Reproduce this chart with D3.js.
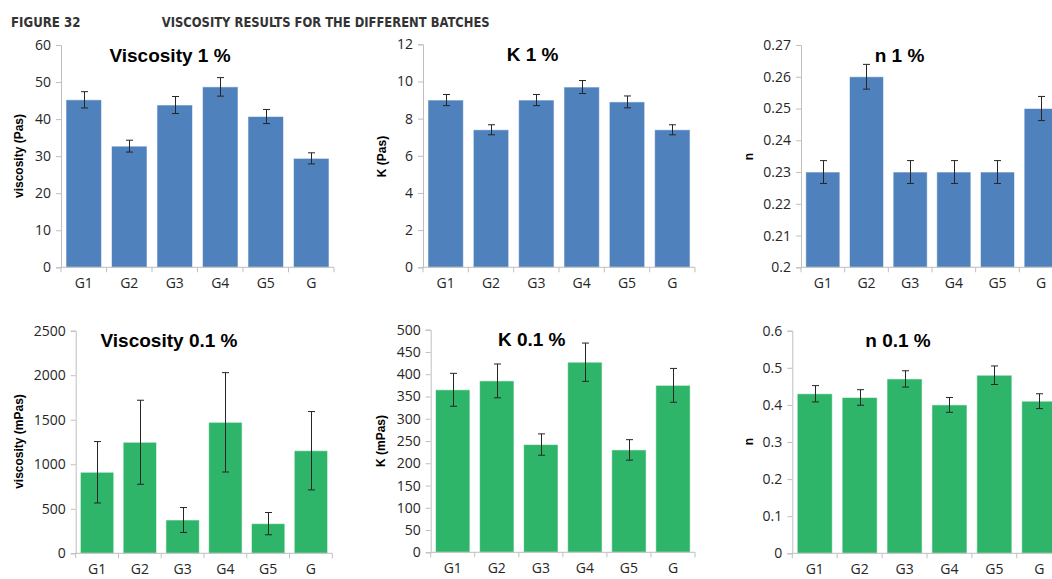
<!DOCTYPE html>
<html><head><meta charset="utf-8">
<script src="https://cdn.jsdelivr.net/npm/d3@7"></script>
<style>
html,body{margin:0;padding:0;background:#fff;overflow:hidden}
svg{display:block}
</style></head>
<body>
<svg id="chart" width="1052" height="579"></svg>
<script>
// ---- data ----
const categories = ["G1","G2","G3","G4","G5","G"];

const visc1    = [45.2, 32.7, 43.8, 48.7, 40.7, 29.4];
const visc1Err = [2.2, 1.6, 2.3, 2.5, 1.9, 1.5];
const k1       = [9.0, 7.4, 9.0, 9.7, 8.9, 7.4];
const k1Err    = [0.3, 0.27, 0.3, 0.35, 0.32, 0.27];
const n1       = [0.23, 0.26, 0.23, 0.23, 0.23, 0.25];
const n1Err    = [0.0036, 0.0039, 0.0036, 0.0036, 0.0036, 0.0038];

const visc01    = [910, 1247, 374, 1471, 333, 1152];
const visc01Err = [345, 472, 140, 558, 125, 440];
const k01       = [365, 385, 242, 427, 230, 375];
const k01Err    = [37, 38, 24, 43, 23, 38];
const n01       = [0.43, 0.42, 0.47, 0.40, 0.48, 0.41];
const n01Err    = [0.022, 0.021, 0.022, 0.020, 0.025, 0.020];

const visc1Ticks  = [0, 10, 20, 30, 40, 50, 60];
const k1Ticks     = [0, 2, 4, 6, 8, 10, 12];
const n1Ticks     = [0.2, 0.21, 0.22, 0.23, 0.24, 0.25, 0.26, 0.27];
const visc01Ticks = [0, 500, 1000, 1500, 2000, 2500];
const k01Ticks    = [0, 50, 100, 150, 200, 250, 300, 350, 400, 450, 500];
const n01Ticks    = [0, 0.1, 0.2, 0.3, 0.4, 0.5, 0.6];

const figureLabel = "FIGURE 32";
const figureTitle = "VISCOSITY RESULTS FOR THE DIFFERENT BATCHES";

// ---- layout ----
const BLUE = "#4F81BD", GREEN = "#2EB56A";
const panels = [
  {title:"Viscosity 1 %",   yLabel:"viscosity (Pas)",  vals:visc1,  err:visc1Err,  ticks:visc1Ticks,  color:BLUE,
   x0:61,    x1:334,    y0:267.3, y1:45,    tx:170,   ty:61.5,  lx:19,  ly:156},
  {title:"K 1 %",           yLabel:"K (Pas)",          vals:k1,     err:k1Err,     ticks:k1Ticks,     color:BLUE,
   x0:423,   x1:695,    y0:267.3, y1:44.3,  tx:532.5, ty:61,    lx:382, ly:156.5},
  {title:"n 1 %",           yLabel:"n",                vals:n1,     err:n1Err,     ticks:n1Ticks,     color:BLUE,
   x0:801,   x1:1063,   y0:267.3, y1:45,    tx:899.5, ty:61.5,  lx:749, ly:156.5},
  {title:"Viscosity 0.1 %", yLabel:"viscosity (mPas)", vals:visc01, err:visc01Err, ticks:visc01Ticks, color:GREEN,
   x0:75.7,  x1:332.3,  y0:553.3, y1:330.7, tx:169,   ty:346.5, lx:19,  ly:441.5},
  {title:"K 0.1 %",         yLabel:"K (mPas)",         vals:k01,    err:k01Err,    ticks:k01Ticks,    color:GREEN,
   x0:430.7, x1:695,    y0:552.3, y1:329.7, tx:531.7, ty:345.5, lx:381, ly:441},
  {title:"n 0.1 %",         yLabel:"n",                vals:n01,    err:n01Err,    ticks:n01Ticks,    color:GREEN,
   x0:792.3, x1:1061.7, y0:553.3, y1:330.7, tx:898,   ty:346.5, lx:749, ly:441.5}
];

const svg = d3.select("#chart");
const AXIS = "#BFBFBF", TXT = "#262626";
const FONT = "'Liberation Sans', Arial, sans-serif";
const TICKFONT = "'Open Sans', 'Noto Sans', sans-serif";

// header
svg.append("text").attr("x", 11).attr("y", 26.5)
  .attr("font-family", "'DejaVu Sans Condensed', 'DejaVu Sans', sans-serif").attr("font-weight", "bold")
  .attr("font-size", 14).attr("fill", "#333")
  .attr("textLength", 69.5).attr("lengthAdjust", "spacingAndGlyphs").text(figureLabel);
svg.append("text").attr("x", 161.7).attr("y", 26.5)
  .attr("font-family", "'DejaVu Sans Condensed', 'DejaVu Sans', sans-serif").attr("font-weight", "bold")
  .attr("font-size", 14).attr("fill", "#333")
  .attr("textLength", 328).attr("lengthAdjust", "spacingAndGlyphs").text(figureTitle);

panels.forEach(p => {
  const g = svg.append("g");
  const x = d3.scaleBand().domain(categories).range([p.x0, p.x1]).paddingInner(0.22).paddingOuter(0.11);
  const y = d3.scaleLinear().domain([p.ticks[0], p.ticks[p.ticks.length - 1]]).range([p.y0, p.y1]);

  // bars
  g.selectAll("rect.bar").data(p.vals).join("rect")
    .attr("x", (d, i) => x(categories[i]))
    .attr("width", x.bandwidth())
    .attr("y", d => y(d))
    .attr("height", d => y(p.ticks[0]) - y(d))
    .attr("fill", p.color)
    .attr("stroke", "rgba(255,255,255,0.55)").attr("stroke-width", 1);

  // error bars
  const eb = g.selectAll("g.err").data(p.vals).join("g")
    .attr("stroke", "#262626").attr("stroke-width", 1).attr("fill", "none");
  const cx = i => Math.round(x(categories[i]) + x.bandwidth() / 2) + 0.5;
  eb.append("line")
    .attr("x1", (d, i) => cx(i)).attr("x2", (d, i) => cx(i))
    .attr("y1", (d, i) => y(d + p.err[i]))
    .attr("y2", (d, i) => y(d - p.err[i]));
  [1, -1].forEach(s => {
    eb.append("line")
      .attr("x1", (d, i) => cx(i) - 3.5)
      .attr("x2", (d, i) => cx(i) + 3.5)
      .attr("y1", (d, i) => y(d + s * p.err[i]))
      .attr("y2", (d, i) => y(d + s * p.err[i]));
  });

  // y axis
  const yAxis = d3.axisLeft(y).tickValues(p.ticks).tickSize(5).tickPadding(5)
    .tickFormat(d3.format("~g"));
  const ya = g.append("g").attr("transform", `translate(${p.x0},0)`).call(yAxis);
  ya.select(".domain").attr("stroke", AXIS);
  ya.selectAll(".tick line").attr("stroke", AXIS);
  ya.selectAll(".tick text").attr("fill", TXT).attr("font-family", TICKFONT).attr("font-size", 14);

  // x axis
  const xAxis = d3.axisBottom(x).tickSize(0).tickPadding(11);
  const xa = g.append("g").attr("transform", `translate(0,${p.y0})`).call(xAxis);
  xa.select(".domain").attr("stroke", AXIS).attr("d", `M${p.x0},0H${p.x1}`);
  xa.selectAll(".tick text").attr("fill", TXT).attr("font-family", TICKFONT).attr("font-size", 14)
    .attr("dy", "0.71em");
  // category boundary ticks
  const bounds = categories.map(c => x(c) - x.step() * x.paddingInner() / 2).concat([p.x1]);
  xa.selectAll("line.bnd").data(bounds).join("line")
    .attr("x1", d => d).attr("x2", d => d).attr("y1", 0).attr("y2", 5).attr("stroke", AXIS);

  // title
  g.append("text").attr("x", p.tx).attr("y", p.ty).attr("text-anchor", "middle")
    .attr("font-family", FONT).attr("font-weight", "bold").attr("font-size", 19)
    .attr("fill", "#000").text(p.title);

  // y label
  g.append("text").attr("transform", `translate(${p.lx},${p.ly}) rotate(-90)`)
    .attr("text-anchor", "middle").attr("dy", "0.35em")
    .attr("font-family", FONT).attr("font-weight", "bold").attr("font-size", 12)
    .attr("fill", "#000").text(p.yLabel);
});
</script>
</body></html>
